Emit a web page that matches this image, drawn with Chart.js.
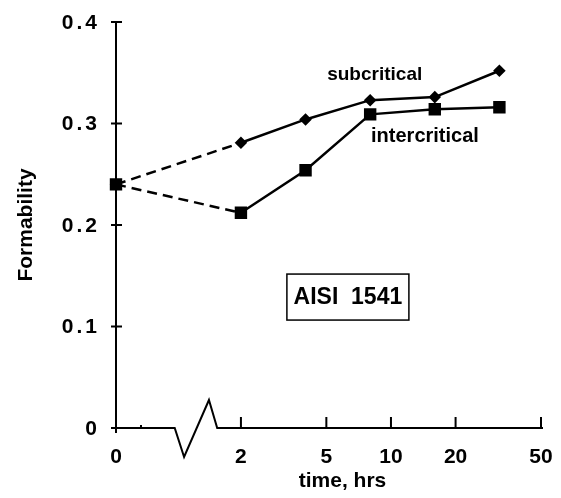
<!DOCTYPE html>
<html>
<head>
<meta charset="utf-8">
<script src="https://cdn.jsdelivr.net/npm/chart.js@4"></script>
<style>
  html, body { margin: 0; padding: 0; background: #fff; }
  #wrap { width: 561px; height: 498px; }
</style>
</head>
<body>
<div id="wrap"><canvas id="chart" width="561" height="498"></canvas></div>
<script>
// time (hrs) and formability readings
const times = [0, 2, 4, 8, 16, 32];
const subcritical = [0.24, 0.281, 0.304, 0.323, 0.326, 0.352];
const intercritical = [0.24, 0.212, 0.254, 0.309, 0.314, 0.316];
const xTickLabels = [0, 2, 5, 10, 20, 50];
const yTickLabels = [0, 0.1, 0.2, 0.3, 0.4];

// broken log axis: "0" sits a bit to the left of 2 hrs
const ZERO_POS = -0.281;
function xpos(t) {
    return t === 0 ? ZERO_POS : Math.log10(t);
}

const FONT = "'Liberation Sans', Arial, Helvetica, sans-serif";
const dashFirst = ctx => ctx.p0DataIndex === 0 ? [10, 6] : undefined;

function toPoints(values) {
    return times.map((t, i) => ({ x: xpos(t), y: values[i] }));
}

// axes, ticks, the break mark and the text labels
const decorations = {
    id: 'decorations',
    beforeDatasetsDraw(chart) {
        const ctx = chart.ctx;
        const xs = chart.scales.x, ys = chart.scales.y;
        const x0 = xs.getPixelForValue(ZERO_POS);
        const x2 = xs.getPixelForValue(xpos(2));
        const xEnd = xs.getPixelForValue(xpos(50));
        const y0 = ys.getPixelForValue(0);
        const yTop = ys.getPixelForValue(0.4);
        ctx.save();
        ctx.strokeStyle = '#000';
        ctx.lineWidth = 2;
        ctx.lineCap = 'butt';

        // y axis
        ctx.beginPath();
        ctx.moveTo(x0, yTop);
        ctx.lineTo(x0, y0 + 5);
        yTickLabels.forEach(v => {
            const py = ys.getPixelForValue(v);
            ctx.moveTo(x0 - 5, py);
            ctx.lineTo(x0 + 6, py);
        });
        ctx.stroke();

        // x axis with the break
        const w = x2 - x0;
        ctx.beginPath();
        ctx.moveTo(x0, y0);
        ctx.lineTo(x0 + 0.47 * w, y0);
        ctx.lineTo(x0 + 0.545 * w, y0 + 29);
        ctx.lineTo(x0 + 0.744 * w, y0 - 28);
        ctx.lineTo(x0 + 0.81 * w, y0);
        ctx.lineTo(xEnd + 2, y0);
        xTickLabels.forEach(v => {
            if (v === 0) return;
            const px = xs.getPixelForValue(xpos(v));
            ctx.moveTo(px, y0);
            ctx.lineTo(px, y0 - 11);
        });
        ctx.moveTo(x0 + 0.2 * w, y0);
        ctx.lineTo(x0 + 0.2 * w, y0 - 3);
        ctx.stroke();

        // text
        ctx.fillStyle = '#000';
        ctx.textBaseline = 'middle';
        ctx.font = 'bold 21px ' + FONT;
        ctx.textAlign = 'right';
        ctx.letterSpacing = '3px';
        yTickLabels.forEach(v => {
            ctx.fillText(v === 0 ? '0' : v.toFixed(1), x0 - 16, ys.getPixelForValue(v) + 1);
        });
        ctx.letterSpacing = '0px';
        ctx.textAlign = 'center';
        xTickLabels.forEach(v => {
            ctx.fillText(String(v), xs.getPixelForValue(xpos(v)), y0 + 29);
        });
        ctx.font = 'bold 21px ' + FONT;
        ctx.fillText('time, hrs', (x0 + xEnd) / 2 + 14, y0 + 53);

        ctx.font = 'bold 19px ' + FONT;
        ctx.fillText('subcritical', xs.getPixelForValue(xpos(8.4)), ys.getPixelForValue(0.348));
        ctx.font = 'bold 20px ' + FONT;
        ctx.fillText('intercritical', xs.getPixelForValue(xpos(14.4)), ys.getPixelForValue(0.287));

        ctx.save();
        ctx.translate(26, ys.getPixelForValue(0.2));
        ctx.rotate(-Math.PI / 2);
        ctx.font = 'bold 21px ' + FONT;
        ctx.fillText('Formability', 0, 0);
        ctx.restore();

        // AISI 1541 box
        const bx = xs.getPixelForValue(xpos(6.3)), by = ys.getPixelForValue(0.129);
        ctx.lineWidth = 1.5;
        ctx.strokeRect(bx - 61, by - 23, 122, 46);
        ctx.font = 'bold 23px ' + FONT;
        ctx.fillText('AISI  1541', bx, by + 1);
        ctx.restore();
    }
};

new Chart(document.getElementById('chart'), {
    type: 'scatter',
    data: {
        datasets: [
            {
                label: 'intercritical',
                data: toPoints(intercritical),
                showLine: true,
                clip: false,
                borderColor: '#000',
                backgroundColor: '#000',
                borderWidth: 2.5,
                pointStyle: 'rect',
                pointRadius: 7,
                segment: { borderDash: dashFirst }
            },
            {
                label: 'subcritical',
                data: toPoints(subcritical),
                showLine: true,
                clip: false,
                borderColor: '#000',
                backgroundColor: '#000',
                borderWidth: 2.5,
                pointStyle: 'rectRot',
                pointRadius: 4.5,
                segment: { borderDash: dashFirst }
            }
        ]
    },
    options: {
        responsive: false,
        animation: false,
        layout: { padding: { top: 22, right: 20, left: 0, bottom: 0 } },
        plugins: {
            legend: { display: false },
            tooltip: { enabled: false }
        },
        scales: {
            x: {
                type: 'linear',
                min: ZERO_POS,
                max: Math.log10(50),
                grid: { display: false },
                border: { display: false },
                ticks: { display: false },
                afterFit: scale => { scale.height = 70; }
            },
            y: {
                type: 'linear',
                min: 0,
                max: 0.4,
                grid: { display: false },
                border: { display: false },
                ticks: { display: false },
                afterFit: scale => { scale.width = 116; }
            }
        }
    },
    plugins: [decorations]
});
</script>
</body>
</html>
